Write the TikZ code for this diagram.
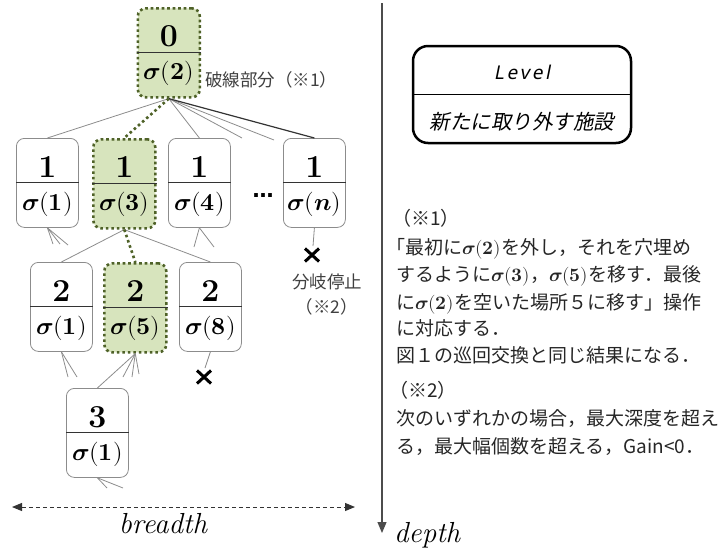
\documentclass[tikz,border=0pt]{standalone}
\usepackage{fontspec}
\usepackage{unicode-math}
\setmathfont{Latin Modern Math}
\usetikzlibrary{calc,arrows.meta}
\newfontfamily\jp{Noto Sans CJK JP}
\newfontfamily\jpit[FakeSlant=0.2]{Noto Sans CJK JP}
\newfontfamily\lvfont[FakeSlant=0.2,LetterSpace=14]{Noto Sans}
\newfontfamily\dvs{DejaVu Sans}
\definecolor{fgreenfill}{HTML}{D7E4BD}
\definecolor{fgreenline}{HTML}{4F6228}
\definecolor{edgegray}{HTML}{8C8C8C}
\definecolor{txtgray}{HTML}{404040}
\newcommand\sig[1]{$\symbfit{\sigma}(#1)$}
\newcommand\facnode[6]{%
  \node[#6, anchor=north west] (#1) at (#2,#3) {};
  \draw[divline] (#1.west) -- (#1.east);
  \node[numtxt] (#1num) at ($(#1.north)+(0,29)$) {#4};
  \node[sigtxt] (#1sig) at ($(#1.north)+(0,66.5)$) {#5};
}
\begin{document}
\begin{tikzpicture}[x=1pt,y=-1pt,
  fbase/.style={minimum width=62pt, minimum height=89pt, inner sep=0pt, rounded corners=8pt},
  fgray/.style={fbase, draw=edgegray, line width=0.8pt, fill=white},
  fgreen/.style={fbase, draw=fgreenline, fill=fgreenfill, line width=2.6pt, dash pattern=on 2.6pt off 2.9pt},
  divline/.style={draw=black!80, line width=0.9pt},
  numtxt/.style={inner sep=0pt, font=\fontsize{32}{32}\selectfont\bfseries},
  sigtxt/.style={inner sep=0pt, font=\fontsize{24.5}{24.5}\selectfont},
  tedge/.style={draw=edgegray, line width=0.8pt},
  darkedge/.style={draw=black!80, line width=1.2pt},
  dedge/.style={draw=fgreenline, line width=2.6pt, dash pattern=on 2.6pt off 2.9pt},
  crossline/.style={draw=black, line width=3pt},
  notetxt/.style={inner sep=0pt, anchor=base west, text=black!85, font=\jp\fontsize{19}{19}\selectfont},
  smalltxt/.style={inner sep=0pt, text=txtgray, font=\jp\fontsize{17.5}{25}\selectfont},
  axislbl/.style={inner sep=0pt, font=\fontsize{29}{29}\selectfont\itshape},
  legendbox/.style={draw=black, line width=2.5pt, rounded corners=15pt, minimum width=218pt, minimum height=97pt, inner sep=0pt}
]
\useasboundingbox (0,0) rectangle (726,547);

% facility nodes
\facnode{n0}{136.5}{7}{0}{\sig{\symbf{2}}}{fgreen}
\facnode{a1}{16}{138}{1}{\sig{\symbf{1}}}{fgray}
\facnode{a3}{92}{138}{1}{\sig{\symbf{3}}}{fgreen}
\facnode{a4}{168}{138}{1}{\sig{\symbf{4}}}{fgray}
\facnode{an}{283}{138}{1}{\sig{\symbfit{n}}}{fgray}
\facnode{b1}{30}{262}{2}{\sig{\symbf{1}}}{fgray}
\facnode{b5}{103}{262}{2}{\sig{\symbf{5}}}{fgreen}
\facnode{b8}{179}{262}{2}{\sig{\symbf{8}}}{fgray}
\facnode{c1}{66}{388}{3}{\sig{\symbf{1}}}{fgray}

\node[inner sep=0pt, font=\dvs\bfseries\fontsize{21}{21}\selectfont] (dots) at (263,196) {…};

% free ends
\coordinate (n0s1) at (242,138);
\coordinate (n0s2) at (274,140);
\coordinate (a1s1) at (53,244);
\coordinate (a1s2) at (60,244);
\coordinate (a1s3) at (68,245);
\coordinate (a4s1) at (194,247);
\coordinate (a4s2) at (214,247);
\coordinate (b1s1) at (68,377);
\coordinate (b1s2) at (77,377);
\coordinate (b5s1) at (123,377);
\coordinate (b5s2) at (132,377);
\coordinate (b5s3) at (139,374);
\coordinate (c1s1) at (107,488);
\coordinate (c1s2) at (123,488);
\coordinate (xntop) at (313,246);
\coordinate (xn) at (312,255);
\coordinate (x8top) at (205,368);
\coordinate (x8) at (204,377);

% edges
\draw[tedge] (n0.south) -- (a1.north);
\draw[tedge] (n0.south) -- (a4.north);
\draw[tedge] (n0.south) -- (n0s1);
\draw[tedge] (n0.south) -- (n0s2);
\draw[darkedge] (n0.south) -- (an.north);
\draw[dedge] (n0.south) -- (a3.north);
\draw[tedge] (a3.south) -- (b1.north);
\draw[tedge] (a3.south) -- (b8.north);
\draw[dedge] (a3.south) -- (b5.north);
\draw[tedge] (a1.south) -- (a1s1);
\draw[tedge] (a1.south) -- (a1s2);
\draw[tedge] (a1.south) -- (a1s3);
\draw[tedge] (a4.south) -- (a4s1);
\draw[tedge] (a4.south) -- (a4s2);
\draw[tedge] (an.south) -- (xntop);
\draw[tedge] (b1.south) -- (b1s1);
\draw[tedge] (b1.south) -- (b1s2);
\draw[tedge] (b5.south) -- (c1.north);
\draw[tedge] (b5.south) -- (b5s1);
\draw[tedge] (b5.south) -- (b5s2);
\draw[tedge] (b5.south) -- (b5s3);
\draw[tedge] (b8.south) -- (x8top);
\draw[tedge] (c1.south) -- (c1s1);
\draw[tedge] (c1.south) -- (c1s2);

% crosses
\draw[crossline] ($(xn)+(-7,-6.5)$) -- ($(xn)+(7,6.5)$);
\draw[crossline] ($(xn)+(-7,6.5)$) -- ($(xn)+(7,-6.5)$);
\draw[crossline] ($(x8)+(-7,-6.5)$) -- ($(x8)+(7,6.5)$);
\draw[crossline] ($(x8)+(-7,6.5)$) -- ($(x8)+(7,-6.5)$);

% labels
\node[smalltxt, anchor=west] (dashlbl) at (205,80) {破線部分（※1）};
\node[smalltxt, align=center] (stoplbl) at (327,294) {分岐停止\\（※2）};

% breadth axis
\coordinate (bl) at (12,507);
\coordinate (br) at (355,507);
\draw[draw=black!80, line width=1pt, dash pattern=on 4pt off 3pt, {Triangle[length=10pt,width=8pt]}-{Triangle[length=10pt,width=8pt]}] (bl) -- (br);
\node[axislbl, anchor=base] (breadth) at (163,533) {breadth};

% depth axis
\coordinate (dtop) at (382,3);
\coordinate (dbot) at (382,533);
\draw[draw=black!70, line width=1.2pt, -{Triangle[length=11pt,width=9pt]}] (dtop) -- (dbot);
\node[axislbl, anchor=base west] (depth) at (394,542) {depth};

% legend
\node[legendbox] (lg) at (522,94.5) {};
\draw[draw=black, line width=1.5pt] (lg.west) -- (lg.east);
\node[inner sep=0pt, font=\lvfont\fontsize{19}{19}\selectfont] (lglevel) at (522,72) {Level};
\node[inner sep=0pt, font=\jpit\fontsize{20.5}{20.5}\selectfont] (lgfac) at (522,122) {新たに取り外す施設};

% notes
\node[notetxt] (l1) at (392,225) {（※1）};
\node[notetxt] (l2) at (386,254.5) {「最初に\sig{\symbf{2}}を外し，それを穴埋め};
\node[notetxt] (l3) at (396,281) {するように\sig{\symbf{3}}，\sig{\symbf{5}}を移す．最後};
\node[notetxt] (l4) at (396,309) {に\sig{\symbf{2}}を空いた場所５に移す」操作};
\node[notetxt] (l5) at (396,335) {に対応する．};
\node[notetxt] (l6) at (396,362) {図１の巡回交換と同じ結果になる．};
\node[notetxt] (l7) at (389,397) {（※2）};
\node[notetxt] (l8) at (396,425) {次のいずれかの場合，最大深度を超え};
\node[notetxt] (l9) at (396,453) {る，最大幅個数を超える，Gain<0．};
\end{tikzpicture}
\end{document}
